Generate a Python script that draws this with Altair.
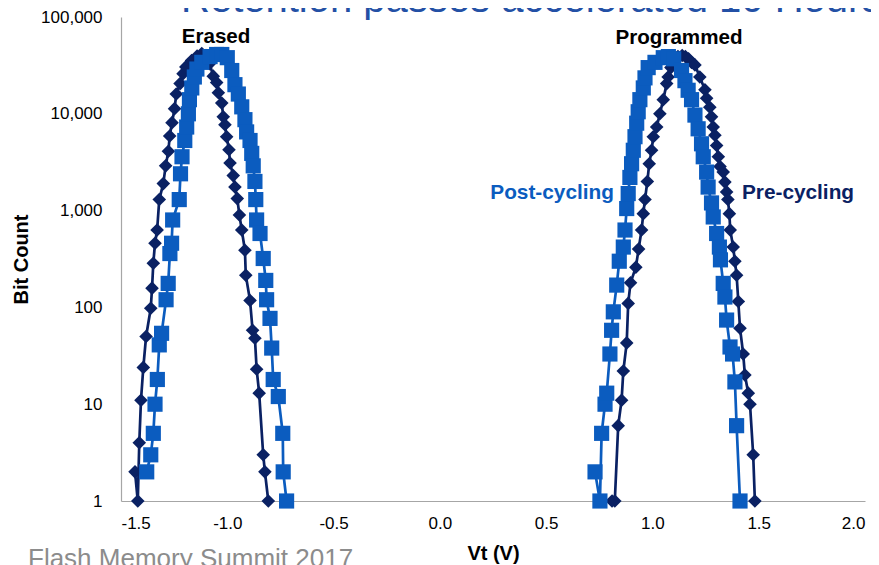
import altair as alt
import pandas as pd

# ---------------- data ----------------
pre_erased_vt = [-1.434, -1.421, -1.414, -1.406, -1.395, -1.382, -1.360, -1.354, -1.348, -1.340,
                 -1.330, -1.320, -1.301, -1.290, -1.277, -1.271, -1.260, -1.248, -1.240, -1.222,
                 -1.208, -1.195, -1.168, -1.142, -1.120, -1.100, -1.083, -1.066, -1.050, -1.042,
                 -1.026, -1.019, -1.011, -1.003, -0.992, -0.987, -0.972, -0.964, -0.953, -0.943,
                 -0.932, -0.917, -0.913, -0.893, -0.881, -0.870, -0.862, -0.850, -0.831, -0.823,
                 -0.807]
pre_erased_count = [2, 1, 4, 11, 24, 50, 98, 158, 286, 460,
                    630, 1300, 1900, 2900, 4100, 5900, 8100, 11300, 16000, 20500,
                    26000, 30500, 35500, 39500, 42000, 40000, 33000, 24500, 21000, 16500,
                    12900, 9300, 7700, 5800, 4250, 3100, 2300, 1750, 1330, 900,
                    630, 390, 215, 118, 58, 48, 23, 13, 3, 2,
                    1]

pre_prog_vt = [0.810, 0.823, 0.839, 0.855, 0.863, 0.879, 0.886, 0.897, 0.922, 0.935,
               0.949, 0.957, 0.965, 0.976, 0.985, 0.996, 1.004, 1.020, 1.035, 1.051,
               1.067, 1.074, 1.087, 1.100, 1.120, 1.140, 1.155, 1.170, 1.184, 1.200,
               1.223, 1.247, 1.255, 1.270, 1.278, 1.286, 1.294, 1.302, 1.310, 1.318,
               1.333, 1.341, 1.349, 1.355, 1.362, 1.366, 1.380, 1.388, 1.396, 1.404,
               1.412, 1.427, 1.435, 1.451, 1.459, 1.474, 1.482]
pre_prog_count = [1, 1, 6, 11, 22, 43, 110, 180, 260, 400,
                  630, 930, 1300, 2000, 3050, 4200, 5800, 7300, 10000, 14000,
                  20500, 24000, 30000, 35000, 39000, 40000, 39000, 37000, 34000, 32000,
                  24000, 17700, 14500, 11700, 9300, 7300, 6000, 4700, 3600, 2850,
                  2500, 1970, 1560, 1300, 930, 630, 420, 300, 215, 115,
                  61, 33, 20, 13, 10, 3, 1]

post_erased_vt = [-1.379, -1.360, -1.348, -1.340, -1.329, -1.320, -1.309, -1.288, -1.278, -1.270,
                  -1.262, -1.257, -1.226, -1.220, -1.213, -1.200, -1.191, -1.183, -1.178, -1.167,
                  -1.155, -1.143, -1.120, -1.081, -1.050, -1.026, -1.000, -0.979, -0.964, -0.948,
                  -0.932, -0.917, -0.909, -0.893, -0.885, -0.878, -0.870, -0.866, -0.862, -0.846,
                  -0.831, -0.819, -0.815, -0.799, -0.791, -0.784, -0.760, -0.739, -0.737, -0.721]
post_erased_count = [2, 3, 5, 10, 18, 41, 54, 120, 177, 360,
                     460, 800, 1300, 2400, 3600, 5300, 7300, 10000, 14000, 18500,
                     24000, 29000, 34000, 39000, 41000, 41000, 38000, 28000, 20000, 16000,
                     11800, 8700, 6500, 5300, 3900, 2900, 2000, 1300, 800, 580,
                     320, 190, 120, 77, 38, 18, 12, 5, 2, 1]

post_prog_vt = [0.730, 0.753, 0.761, 0.777, 0.785, 0.800, 0.808, 0.816, 0.832, 0.844,
                0.863, 0.871, 0.879, 0.886, 0.894, 0.902, 0.910, 0.918, 0.926, 0.933,
                0.941, 0.957, 0.965, 0.980, 1.012, 1.051, 1.075, 1.100, 1.137, 1.153,
                1.168, 1.184, 1.200, 1.215, 1.231, 1.239, 1.255, 1.262, 1.278, 1.286,
                1.302, 1.315, 1.320, 1.333, 1.341, 1.349, 1.365, 1.377, 1.388, 1.396,
                1.412]
post_prog_count = [2, 1, 5, 10, 13, 33, 58, 90, 170, 300,
                   420, 630, 1050, 1500, 2200, 3050, 4200, 5800, 8000, 10500,
                   14000, 18500, 23500, 30000, 34000, 38000, 39000, 37000, 28000, 22000,
                   17500, 14000, 9700, 7000, 4900, 3600, 2500, 1750, 1200, 860,
                   580, 420, 310, 177, 128, 74, 39, 33, 17, 6,
                   1]

x_ticks = [-1.5, -1.0, -0.5, 0.0, 0.5, 1.0, 1.5, 2.0]
y_ticks = [1, 10, 100, 1000, 10000, 100000]

labels_text = ["Erased", "Programmed", "Post-cycling", "Pre-cycling"]
labels_vt = [-1.053, 1.125, 0.819, 1.421]
labels_count = [54000, 52000, 1320, 1320]

TITLE = "Retention passes accelerated 10 Hours"
FOOTER = "Flash Memory Summit 2017"

NAVY = "#0A2163"
BLUE = "#0B5CBF"
FONT = "Liberation Sans"


def frame(series, group, vts, cnts):
    return pd.DataFrame({"series": series, "group": group, "vt": vts, "count": cnts})


df_pre = pd.concat([frame("Pre-cycling", "pre-erased", pre_erased_vt, pre_erased_count),
                    frame("Pre-cycling", "pre-prog", pre_prog_vt, pre_prog_count)])
df_post = pd.concat([frame("Post-cycling", "post-erased", post_erased_vt, post_erased_count),
                     frame("Post-cycling", "post-prog", post_prog_vt, post_prog_count)])
df_lab = pd.DataFrame({"text": labels_text, "vt": labels_vt, "count": labels_count})

axis_common = dict(grid=False, ticks=False, domainColor="#A6A6A6", domainWidth=1.2,
                   labelFont=FONT, labelFontSize=17, labelColor="black",
                   titleFont=FONT, titleFontSize=20, titleFontWeight="bold",
                   titleColor="black")

x_enc = alt.X("vt:Q",
              scale=alt.Scale(domain=[-1.5, 2.0], nice=False, zero=False),
              axis=alt.Axis(values=x_ticks, format=".1f", title="Vt (V)",
                            labelExpr="replace(datum.label, '\u2212', '-')",
                            labelPadding=14, titlePadding=12, **axis_common))
y_enc = alt.Y("count:Q",
              scale=alt.Scale(type="log", domain=[1, 100000], nice=False),
              axis=alt.Axis(values=y_ticks, format=",", title="Bit Count",
                            labelPadding=19, titlePadding=9, **axis_common))

line_pre = alt.Chart(df_pre).mark_line(color=NAVY, strokeWidth=2.7).encode(
    x=x_enc, y=y_enc, detail="group:N")
pts_pre = alt.Chart(df_pre).mark_point(shape="diamond", filled=True, size=185,
                                        color=NAVY, opacity=1).encode(x=x_enc, y=y_enc)
line_post = alt.Chart(df_post).mark_line(color=BLUE, strokeWidth=2.7).encode(
    x=x_enc, y=y_enc, detail="group:N")
pts_post = alt.Chart(df_post).mark_point(shape="square", filled=True, size=230,
                                          color=BLUE, opacity=1).encode(x=x_enc, y=y_enc)

lab_black = alt.Chart(df_lab[df_lab.text.isin(["Erased", "Programmed"])]).mark_text(
    font=FONT, fontSize=20.6, fontWeight="bold", color="black", align="center",
    baseline="alphabetic").encode(x="vt:Q", y="count:Q", text="text:N")
lab_post = alt.Chart(df_lab[df_lab.text == "Post-cycling"]).mark_text(
    font=FONT, fontSize=20.8, fontWeight="bold", color=BLUE, align="right",
    baseline="alphabetic").encode(x="vt:Q", y="count:Q", text="text:N")
lab_pre = alt.Chart(df_lab[df_lab.text == "Pre-cycling"]).mark_text(
    font=FONT, fontSize=20.8, fontWeight="bold", color=NAVY, align="left",
    baseline="alphabetic").encode(x="vt:Q", y="count:Q", text="text:N")

title_txt = alt.Chart(pd.DataFrame({"t": [TITLE]})).mark_text(
    font=FONT, fontSize=40, color="#2350A5", align="left", baseline="alphabetic"
).encode(x=alt.value(60), y=alt.value(-5), text="t:N")
footer_txt = alt.Chart(pd.DataFrame({"t": [FOOTER]})).mark_text(
    font=FONT, fontSize=26, color="#8C8C8C", align="left", baseline="alphabetic"
).encode(x=alt.value(-93), y=alt.value(550), text="t:N")

chart = alt.layer(line_pre, pts_pre, line_post, pts_post,
                  lab_black, lab_post, lab_pre, title_txt, footer_txt).properties(
    width=744, height=484,
    background="white",
    autosize=alt.AutoSizeParams(type="none"),
    padding={"left": 113, "top": 9, "right": 6, "bottom": 64},
).configure_view(stroke=None)

chart.save("out.html", embed_options={"renderer": "svg", "actions": False})
